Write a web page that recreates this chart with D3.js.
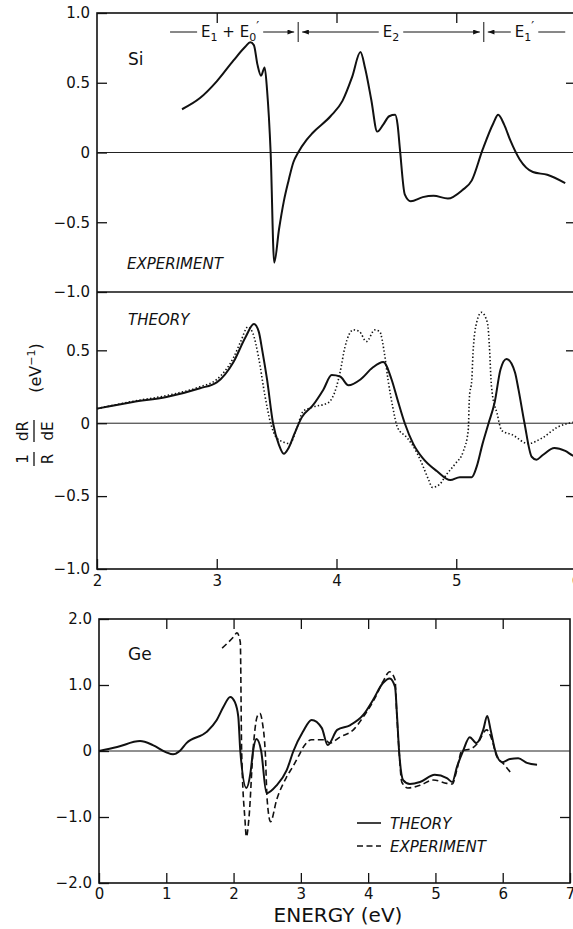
<!DOCTYPE html>
<html>
<head>
<meta charset="utf-8">
<script src="https://cdn.jsdelivr.net/npm/d3@7"></script>
<style>
  body { margin: 0; background: #fff; }
  svg { display: block; font-family: "DejaVu Sans", sans-serif; }
</style>
</head>
<body>
<svg id="chart" width="573" height="929"></svg>
<script>
// Si, experiment (top panel) - energy in eV, (1/R) dR/dE in eV^-1
const siExpEnergy = [2.71, 2.86, 3.00, 3.14, 3.24, 3.28, 3.31, 3.34, 3.37, 3.40, 3.42, 3.45, 3.48, 3.52, 3.56, 3.60, 3.64, 3.68, 3.75, 3.80, 3.95, 4.05, 4.13, 4.20, 4.24, 4.29, 4.34, 4.39, 4.44, 4.49, 4.51, 4.53, 4.57, 4.62, 4.72, 4.81, 4.93, 5.05, 5.13, 5.22, 5.31, 5.35, 5.40, 5.45, 5.53, 5.64, 5.76, 5.91];
const siExpValue = [0.31, 0.39, 0.51, 0.66, 0.76, 0.79, 0.77, 0.63, 0.55, 0.61, 0.45, 0.0, -0.79, -0.55, -0.35, -0.2, -0.07, 0.0, 0.09, 0.14, 0.26, 0.37, 0.54, 0.72, 0.6, 0.38, 0.15, 0.2, 0.26, 0.27, 0.2, 0.02, -0.3, -0.35, -0.32, -0.31, -0.33, -0.27, -0.2, 0.02, 0.21, 0.27, 0.2, 0.09, -0.05, -0.14, -0.16, -0.22];

// Si, theory (middle panel): solid and dotted curves
const siThEnergy = [2.00, 2.30, 2.58, 2.86, 3.00, 3.14, 3.24, 3.31, 3.35, 3.38, 3.42, 3.47, 3.52, 3.56, 3.60, 3.65, 3.71, 3.80, 3.89, 3.96, 4.03, 4.10, 4.20, 4.30, 4.39, 4.46, 4.51, 4.57, 4.64, 4.72, 4.84, 4.95, 5.03, 5.13, 5.17, 5.22, 5.27, 5.32, 5.37, 5.42, 5.49, 5.52, 5.57, 5.63, 5.67, 5.72, 5.82, 5.91, 5.97, 6.00];
const siThValue = [0.10, 0.145, 0.18, 0.24, 0.28, 0.42, 0.59, 0.68, 0.63, 0.5, 0.30, 0.0, -0.15, -0.21, -0.17, -0.07, 0.04, 0.12, 0.23, 0.33, 0.32, 0.26, 0.30, 0.38, 0.42, 0.30, 0.16, 0.0, -0.14, -0.24, -0.33, -0.39, -0.37, -0.37, -0.30, -0.14, 0.0, 0.14, 0.37, 0.44, 0.35, 0.23, 0.0, -0.23, -0.25, -0.22, -0.17, -0.19, -0.22, -0.23];

const siDotEnergy = [2.00, 2.30, 2.58, 2.86, 3.00, 3.14, 3.20, 3.26, 3.30, 3.35, 3.40, 3.45, 3.50, 3.56, 3.61, 3.67, 3.72, 3.80, 3.93, 4.00, 4.03, 4.07, 4.14, 4.19, 4.25, 4.32, 4.36, 4.40, 4.43, 4.47, 4.51, 4.59, 4.67, 4.72, 4.77, 4.80, 4.86, 4.92, 4.99, 5.06, 5.10, 5.11, 5.13, 5.14, 5.17, 5.21, 5.26, 5.28, 5.29, 5.30, 5.34, 5.38, 5.47, 5.60, 5.72, 5.84, 6.00];
const siDotValue = [0.10, 0.15, 0.19, 0.25, 0.30, 0.45, 0.56, 0.66, 0.62, 0.45, 0.2, 0.0, -0.1, -0.13, -0.14, -0.03, 0.08, 0.11, 0.14, 0.25, 0.35, 0.52, 0.64, 0.63, 0.56, 0.64, 0.63, 0.48, 0.30, 0.11, -0.03, -0.10, -0.20, -0.29, -0.39, -0.44, -0.42, -0.35, -0.28, -0.19, -0.05, 0.18, 0.30, 0.48, 0.69, 0.76, 0.69, 0.48, 0.30, 0.21, 0.07, -0.05, -0.08, -0.14, -0.10, -0.03, 0.01];

// Ge (bottom panel)
const geThEnergy = [0.00, 0.27, 0.61, 0.80, 1.00, 1.10, 1.20, 1.30, 1.60, 1.75, 1.85, 1.95, 2.02, 2.07, 2.10, 2.19, 2.25, 2.29, 2.34, 2.41, 2.49, 2.64, 2.79, 2.89, 3.03, 3.16, 3.31, 3.40, 3.54, 3.73, 3.93, 4.07, 4.22, 4.32, 4.40, 4.43, 4.46, 4.52, 4.62, 4.77, 4.99, 5.17, 5.25, 5.32, 5.41, 5.51, 5.61, 5.71, 5.77, 5.82, 5.89, 5.99, 6.11, 6.23, 6.36, 6.51];
const geThValue = [0.00, 0.06, 0.15, 0.09, -0.02, -0.05, 0.00, 0.12, 0.29, 0.47, 0.67, 0.82, 0.74, 0.52, 0.00, -0.56, -0.34, 0.00, 0.18, 0.00, -0.64, -0.52, -0.29, 0.00, 0.29, 0.47, 0.35, 0.09, 0.32, 0.39, 0.55, 0.77, 1.03, 1.10, 0.97, 0.52, 0.00, -0.44, -0.50, -0.47, -0.36, -0.41, -0.47, -0.24, 0.00, 0.21, 0.12, 0.32, 0.53, 0.32, 0.00, -0.17, -0.12, -0.11, -0.18, -0.21];

const geExpEnergy = [1.83, 2.00, 2.05, 2.10, 2.12, 2.17, 2.19, 2.23, 2.29, 2.35, 2.39, 2.43, 2.47, 2.50, 2.55, 2.64, 2.79, 2.89, 2.98, 3.05, 3.16, 3.36, 3.43, 3.58, 3.78, 3.93, 4.10, 4.22, 4.32, 4.40, 4.42, 4.46, 4.50, 4.59, 4.77, 4.97, 5.17, 5.25, 5.32, 5.39, 5.54, 5.63, 5.76, 5.84, 5.91, 6.00, 6.12];
const geExpValue = [1.56, 1.73, 1.79, 1.65, 0.00, -1.05, -1.30, -1.00, 0.02, 0.52, 0.57, 0.42, 0.00, -0.75, -1.07, -0.74, -0.39, -0.22, -0.05, 0.08, 0.17, 0.17, 0.12, 0.21, 0.32, 0.52, 0.80, 1.05, 1.20, 1.08, 0.67, 0.00, -0.47, -0.56, -0.52, -0.44, -0.49, -0.50, -0.28, 0.00, 0.04, 0.12, 0.32, 0.17, -0.08, -0.18, -0.33];

// transition regions marked above the Si panel (eV)
const bandEdges = [2.61, 3.68, 5.23, 5.91];
const bandLabels = [["E", "1", " + E", "0", "′"], ["E", "2"], ["E", "1", "′"]];

const svg = d3.select("#chart");

const xSi = d3.scaleLinear().domain([2, 6]).range([97, 576]);
const ySiExp = d3.scaleLinear().domain([-1, 1]).range([292, 13]);
const ySiTh = d3.scaleLinear().domain([-1, 0.9]).range([569, 292]);
const xGe = d3.scaleLinear().domain([0, 7]).range([99, 570]);
const yGe = d3.scaleLinear().domain([-2, 2]).range([883, 619]);

const fmt = d => (d === 0 ? "0" : d3.format(".1f")(d));

// arrow marker
svg.append("defs").append("marker")
  .attr("id", "arrow")
  .attr("viewBox", "0 0 8 6")
  .attr("refX", 8).attr("refY", 3)
  .attr("markerWidth", 7).attr("markerHeight", 5)
  .attr("markerUnits", "userSpaceOnUse")
  .attr("orient", "auto-start-reverse")
  .append("path").attr("d", "M0,0L8,3L0,6Z").attr("fill", "#111");

function styleAxis(g, size) {
  g.select(".domain").remove();
  g.selectAll(".tick line").attr("stroke", "#111").attr("stroke-width", 1.3);
  g.selectAll(".tick text")
    .attr("fill", "#111")
    .style("font-size", size + "px")
    .style("font-family", "DejaVu Sans, sans-serif");
}

function zeroLine(xs, ys) {
  svg.append("line")
    .attr("x1", xs.range()[0]).attr("x2", xs.range()[1])
    .attr("y1", ys(0)).attr("y2", ys(0))
    .attr("stroke", "#222").attr("stroke-width", 1);
}

// ---- Si frame ----
const frame = svg.append("g").attr("stroke", "#111").attr("stroke-width", 1.6).attr("fill", "none");
frame.append("rect")
  .attr("x", xSi(2)).attr("y", ySiExp(1))
  .attr("width", xSi(6) - xSi(2)).attr("height", ySiTh(-1) - ySiExp(1));
frame.append("line")
  .attr("x1", xSi(2)).attr("x2", xSi(6))
  .attr("y1", ySiExp(-1)).attr("y2", ySiExp(-1));

zeroLine(xSi, ySiExp);
zeroLine(xSi, ySiTh);

svg.append("g").attr("transform", `translate(${xSi(2)},0)`)
  .call(d3.axisLeft(ySiExp).tickValues([1, 0.5, 0, -0.5, -1]).tickSize(-10).tickPadding(7).tickFormat(fmt))
  .call(g => styleAxis(g, 15));
svg.append("g").attr("transform", `translate(${xSi(2)},0)`)
  .call(d3.axisLeft(ySiTh).tickValues([0.5, 0, -0.5, -1]).tickSize(-10).tickPadding(7).tickFormat(fmt))
  .call(g => styleAxis(g, 15));
svg.append("g").attr("transform", `translate(${xSi(6)},0)`)
  .call(d3.axisRight(ySiExp).tickValues([0.5, -0.5]).tickSize(-10).tickFormat(""))
  .call(g => styleAxis(g, 15));
svg.append("g").attr("transform", `translate(${xSi(6)},0)`)
  .call(d3.axisRight(ySiTh).tickValues([0.5, -0.5]).tickSize(-10).tickFormat(""))
  .call(g => styleAxis(g, 15));
svg.append("g").attr("transform", `translate(0,${ySiExp(1)})`)
  .call(d3.axisTop(xSi).tickValues([3, 4, 5]).tickSize(-10).tickFormat(""))
  .call(g => styleAxis(g, 15));
svg.append("g").attr("transform", `translate(0,${ySiTh(-1)})`)
  .call(d3.axisBottom(xSi).tickValues([2, 3, 4, 5, 6]).tickSize(-10).tickPadding(6).tickFormat(d3.format("d")))
  .call(g => styleAxis(g, 15));

// ---- Si curves ----
const lineSiExp = d3.line().curve(d3.curveMonotoneX)
  .x(i => xSi(siExpEnergy[i])).y(i => ySiExp(siExpValue[i]));
svg.append("path").attr("d", lineSiExp(d3.range(siExpEnergy.length)))
  .attr("fill", "none").attr("stroke", "#111").attr("stroke-width", 2);

const lineSiDot = d3.line().curve(d3.curveMonotoneX)
  .x(i => xSi(siDotEnergy[i])).y(i => ySiTh(siDotValue[i]));
svg.append("path").attr("d", lineSiDot(d3.range(siDotEnergy.length)))
  .attr("fill", "none").attr("stroke", "#111").attr("stroke-width", 1.6)
  .attr("stroke-dasharray", "1.4,2.2");

const lineSiTh = d3.line().curve(d3.curveMonotoneX)
  .x(i => xSi(siThEnergy[i])).y(i => ySiTh(siThValue[i]));
svg.append("path").attr("d", lineSiTh(d3.range(siThEnergy.length)))
  .attr("fill", "none").attr("stroke", "#111").attr("stroke-width", 2);

// ---- Si texts ----
svg.append("text").attr("x", 128).attr("y", 65).style("font-size", "17px").attr("fill", "#111").text("Si");
svg.append("text").attr("x", 127).attr("y", 269).style("font-size", "15px").style("font-style", "italic")
  .attr("fill", "#111").text("EXPERIMENT");
svg.append("text").attr("x", 128).attr("y", 325).style("font-size", "15px").style("font-style", "italic")
  .attr("fill", "#111").text("THEORY");

// band annotations
const bandY = 32;
bandLabels.forEach((parts, k) => {
  const x0 = xSi(bandEdges[k]), x1 = xSi(bandEdges[k + 1]);
  const t = svg.append("text")
    .attr("x", (x0 + x1) / 2 + (k === 0 ? -4 : 0)).attr("y", bandY + 5)
    .attr("text-anchor", "middle").style("font-size", "15px").attr("fill", "#111");
  parts.forEach((p, j) => {
    const s = t.append("tspan").text(p);
    if (p === "′") {
      s.attr("dx", 0).attr("dy", -11).style("font-size", "13px");
    } else if (j % 2 === 1) {
      s.attr("dy", 4).style("font-size", "11px");
    } else if (j > 0) {
      s.attr("dy", -4);
    }
  });
  const bb = t.node().getBBox();
  const left = svg.append("line")
    .attr("x1", bb.x - 4).attr("x2", x0 + (k === 0 ? 0 : 4))
    .attr("y1", bandY).attr("y2", bandY)
    .attr("stroke", "#111").attr("stroke-width", 1);
  if (k > 0) left.attr("marker-end", "url(#arrow)");
  const right = svg.append("line")
    .attr("x1", bb.x + bb.width + 4).attr("x2", x1 - (k === bandLabels.length - 1 ? 0 : 4))
    .attr("y1", bandY).attr("y2", bandY)
    .attr("stroke", "#111").attr("stroke-width", 1);
  if (k < bandLabels.length - 1) right.attr("marker-end", "url(#arrow)");
});
bandEdges.slice(1, -1).forEach(e => {
  svg.append("line")
    .attr("x1", xSi(e)).attr("x2", xSi(e))
    .attr("y1", bandY - 10).attr("y2", bandY + 10)
    .attr("stroke", "#111").attr("stroke-width", 1);
});

// y label: (1/R)(dR/dE) (eV^-1)
const yl = svg.append("g").attr("transform", "rotate(-90)").attr("fill", "#111").style("font-size", "15px");
[["1", "R", -459, 14], ["dR", "dE", -431, 22]].forEach(([num, den, c, w]) => {
  yl.append("text").attr("x", c).attr("y", 28).attr("text-anchor", "middle").text(num);
  yl.append("text").attr("x", c).attr("y", 53).attr("text-anchor", "middle").text(den);
  yl.append("line").attr("x1", c - w / 2).attr("x2", c + w / 2).attr("y1", 34).attr("y2", 34)
    .attr("stroke", "#111").attr("stroke-width", 1.3);
});
const ev = yl.append("text").attr("x", -368).attr("y", 41).attr("text-anchor", "middle").style("font-size", "16px");
ev.append("tspan").text("(eV");
ev.append("tspan").attr("dy", -6).style("font-size", "11px").text("−1");
ev.append("tspan").attr("dy", 6).text(")");

// ---- Ge panel ----
svg.append("rect")
  .attr("x", xGe(0)).attr("y", yGe(2))
  .attr("width", xGe(7) - xGe(0)).attr("height", yGe(-2) - yGe(2))
  .attr("fill", "none").attr("stroke", "#111").attr("stroke-width", 1.6);
zeroLine(xGe, yGe);

svg.append("g").attr("transform", `translate(${xGe(0)},0)`)
  .call(d3.axisLeft(yGe).tickValues([2, 1, 0, -1, -2]).tickSize(-10).tickPadding(7).tickFormat(fmt))
  .call(g => styleAxis(g, 15));
svg.append("g").attr("transform", `translate(${xGe(7)},0)`)
  .call(d3.axisRight(yGe).tickValues([1, -1]).tickSize(-10).tickFormat(""))
  .call(g => styleAxis(g, 15));
svg.append("g").attr("transform", `translate(0,${yGe(2)})`)
  .call(d3.axisTop(xGe).tickValues([1, 2, 3, 4, 5, 6]).tickSize(-10).tickFormat(""))
  .call(g => styleAxis(g, 15));
svg.append("g").attr("transform", `translate(0,${yGe(-2)})`)
  .call(d3.axisBottom(xGe).tickValues(d3.range(0, 8)).tickSize(-10).tickPadding(5).tickFormat(d3.format("d")))
  .call(g => styleAxis(g, 15));

const lineGeExp = d3.line().curve(d3.curveMonotoneX)
  .x(i => xGe(geExpEnergy[i])).y(i => yGe(geExpValue[i]));
svg.append("path").attr("d", lineGeExp(d3.range(geExpEnergy.length)))
  .attr("fill", "none").attr("stroke", "#111").attr("stroke-width", 1.6)
  .attr("stroke-dasharray", "6,3.5");

const lineGeTh = d3.line().curve(d3.curveMonotoneX)
  .x(i => xGe(geThEnergy[i])).y(i => yGe(geThValue[i]));
svg.append("path").attr("d", lineGeTh(d3.range(geThEnergy.length)))
  .attr("fill", "none").attr("stroke", "#111").attr("stroke-width", 2);

svg.append("text").attr("x", 128).attr("y", 660).style("font-size", "17px").attr("fill", "#111").text("Ge");

// legend
const legend = svg.append("g").attr("transform", "translate(357,823)");
[["THEORY", null], ["EXPERIMENT", "6,3.5"]].forEach(([name, dash], i) => {
  const row = legend.append("g").attr("transform", `translate(0,${i * 23})`);
  row.append("line").attr("x1", 0).attr("x2", 24).attr("y1", 0).attr("y2", 0)
    .attr("stroke", "#111").attr("stroke-width", 1.6).attr("stroke-dasharray", dash);
  row.append("text").attr("x", 33).attr("y", 6).style("font-size", "15px").style("font-style", "italic")
    .attr("fill", "#111").text(name);
});

svg.append("text").attr("x", 338).attr("y", 922).attr("text-anchor", "middle")
  .style("font-size", "20px").attr("fill", "#111").text("ENERGY (eV)");
</script>
</body>
</html>
